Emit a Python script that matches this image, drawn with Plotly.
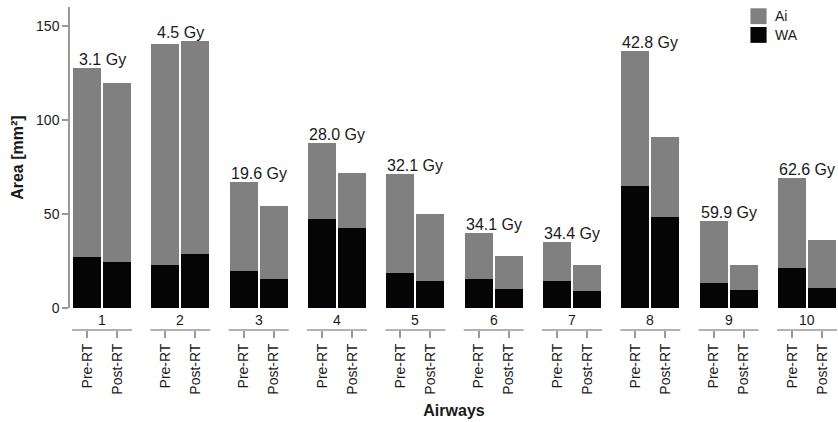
import plotly.graph_objects as go

# Airway areas (mm²) before and after radiotherapy, stacked as WA (wall area) + Ai (lumen area)
airways = ["1", "2", "3", "4", "5", "6", "7", "8", "9", "10"]
doses_gy = [3.1, 4.5, 19.6, 28.0, 32.1, 34.1, 34.4, 42.8, 59.9, 62.6]
phases = ["Pre-RT", "Post-RT"]

wa_pre = [27.3, 23.0, 19.8, 47.5, 18.8, 15.6, 14.5, 65.0, 13.4, 21.4]
wa_post = [24.6, 28.9, 15.6, 42.7, 14.5, 10.3, 9.2, 48.5, 9.7, 10.8]
ai_pre = [100.2, 117.4, 47.3, 40.3, 52.6, 24.4, 20.7, 71.7, 33.0, 47.8]
ai_post = [95.1, 113.1, 38.8, 29.2, 35.6, 17.5, 13.8, 42.5, 13.3, 25.5]

FONT = "Liberation Sans, Arial, Helvetica, sans-serif"
AI_COLOR = "#808080"
WA_COLOR = "#050505"
AXIS_GREY = "#9a9a9a"
TEXT = "#1a1a1a"

# each airway occupies one unit on the x axis; the two bars sit either side of its centre
half_gap = 0.1915
bar_w = 0.3575
centres = list(range(1, len(airways) + 1))

xs, wa_vals, ai_vals, tick_text = [], [], [], []
for i, c in enumerate(centres):
    xs += [c - half_gap, c + half_gap]
    wa_vals += [wa_pre[i], wa_post[i]]
    ai_vals += [ai_pre[i], ai_post[i]]
    tick_text += phases

fig = go.Figure()
fig.add_trace(go.Bar(x=xs, y=wa_vals, width=bar_w, name="WA",
                     marker=dict(color=WA_COLOR, line=dict(width=0))))
fig.add_trace(go.Bar(x=xs, y=ai_vals, width=bar_w, name="Ai",
                     marker=dict(color=AI_COLOR, line=dict(width=0))))

annotations = []
shapes = []

# dose labels above each pair of bars
for i, c in enumerate(centres):
    top = max(wa_pre[i] + ai_pre[i], wa_post[i] + ai_post[i])
    annotations.append(dict(x=c, y=top, xref="x", yref="y", text=f"{doses_gy[i]:.1f} Gy",
                            showarrow=False, xanchor="center", yanchor="bottom", yshift=-2,
                            font=dict(family=FONT, size=16, color=TEXT)))

# airway number and grouping bracket under each pair
for i, c in enumerate(centres):
    annotations.append(dict(x=c, y=0, xref="x", yref="paper", text=airways[i],
                            showarrow=False, xanchor="center", yanchor="bottom", yshift=0,
                            font=dict(family=FONT, size=14, color=TEXT)))
    shapes.append(dict(type="line", xref="x", yref="paper", x0=c - 0.383, x1=c + 0.383,
                       y0=0, y1=0, line=dict(color=AXIS_GREY, width=1.5)))

# legend drawn as swatches + labels
legend_items = [("Ai", AI_COLOR, 0.947, 0.996), ("WA", WA_COLOR, 0.889, 0.938)]
for label, color, y0, y1 in legend_items:
    shapes.append(dict(type="rect", xref="paper", yref="paper", x0=0.886, x1=0.907,
                       y0=y0, y1=y1, fillcolor=color, line=dict(width=0)))
    annotations.append(dict(x=0.915, y=(y0 + y1) / 2, xref="paper", yref="paper", text=label,
                            showarrow=False, xanchor="left", yanchor="middle",
                            font=dict(family=FONT, size=14, color=TEXT)))

fig.update_layout(
    width=838, height=422,
    margin=dict(l=70, r=0, t=7, b=92),
    paper_bgcolor="white", plot_bgcolor="white",
    barmode="relative", bargap=0,
    showlegend=False,
    font=dict(family=FONT, size=14, color=TEXT),
    annotations=annotations,
    shapes=shapes,
    xaxis=dict(
        range=[0.591, 10.3958], anchor="free", position=0,
        tickmode="array", tickvals=xs, ticktext=tick_text, tickangle=-90,
        ticks="outside", ticklen=7, tickwidth=1.5, tickcolor=AXIS_GREY,
        showline=False, showgrid=False, zeroline=False,
        tickfont=dict(family=FONT, size=14, color=TEXT),
        title=dict(text="<b>Airways</b>", standoff=11,
                   font=dict(family=FONT, size=16, color=TEXT)),
    ),
    yaxis=dict(
        range=[0, 160], domain=[0.0672, 1],
        tickvals=[0, 50, 100, 150],
        ticks="outside", ticklen=6, tickwidth=1.5, tickcolor=AXIS_GREY,
        showline=True, linecolor=AXIS_GREY, linewidth=1.5,
        showgrid=False, zeroline=False,
        tickfont=dict(family=FONT, size=14, color=TEXT),
        title=dict(text="<b>Area [mm²]</b>", standoff=8,
                   font=dict(family=FONT, size=16, color=TEXT)),
    ),
)

fig.write_html("out.html")
